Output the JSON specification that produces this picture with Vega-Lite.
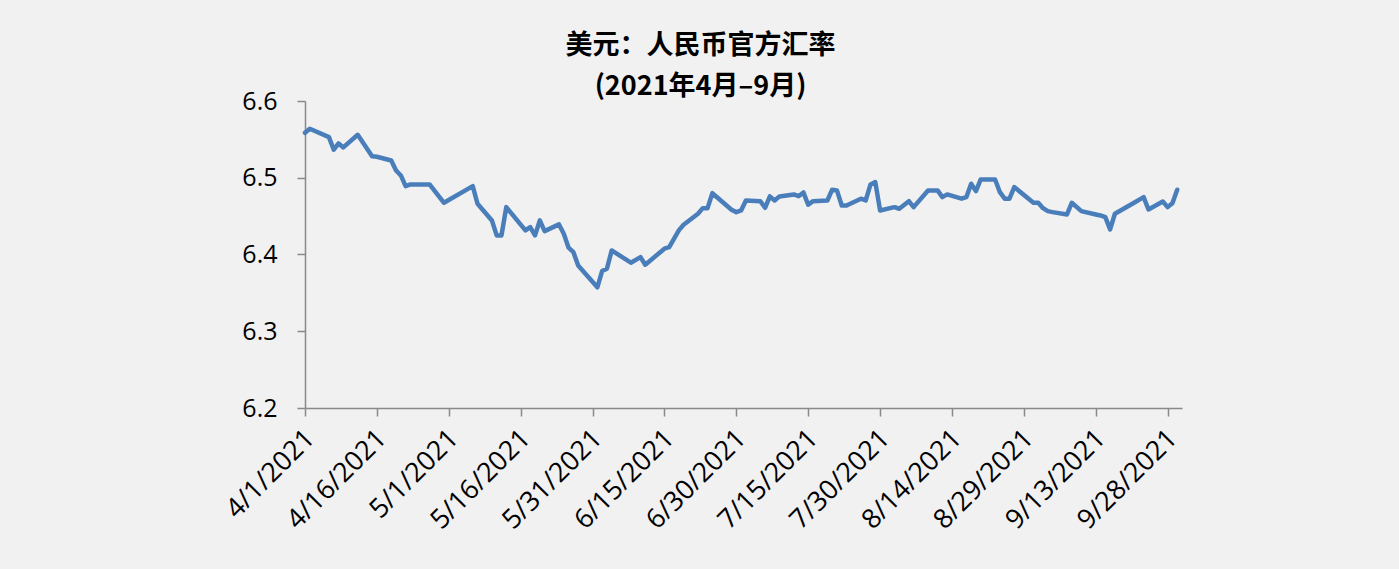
{
  "$schema": "https://vega.github.io/schema/vega-lite/v6.json",
  "width": 877,
  "height": 307,
  "autosize": {"type": "none"},
  "padding": {"left": 305, "top": 101, "right": 217, "bottom": 161},
  "background": "#F1F1F1",
  "title": {
    "text": ["美元：人民币官方汇率", "(2021年4月–9月)"],
    "font": "Noto Sans CJK SC",
    "fontSize": 27,
    "fontWeight": "bold",
    "lineHeight": 41,
    "anchor": "middle",
    "dx": -43,
    "offset": -12,
    "color": "#000000"
  },
  "data": {
    "values": [
      {"date": "2021/04/01", "rate": 6.5586},
      {"date": "2021/04/02", "rate": 6.5638},
      {"date": "2021/04/06", "rate": 6.5529},
      {"date": "2021/04/07", "rate": 6.5365},
      {"date": "2021/04/08", "rate": 6.5447},
      {"date": "2021/04/09", "rate": 6.5395},
      {"date": "2021/04/12", "rate": 6.5560},
      {"date": "2021/04/15", "rate": 6.5281},
      {"date": "2021/04/16", "rate": 6.5273},
      {"date": "2021/04/19", "rate": 6.5225},
      {"date": "2021/04/20", "rate": 6.5095},
      {"date": "2021/04/21", "rate": 6.5030},
      {"date": "2021/04/22", "rate": 6.4891},
      {"date": "2021/04/23", "rate": 6.4913},
      {"date": "2021/04/27", "rate": 6.4913},
      {"date": "2021/04/30", "rate": 6.4674},
      {"date": "2021/05/06", "rate": 6.4891},
      {"date": "2021/05/07", "rate": 6.4661},
      {"date": "2021/05/10", "rate": 6.4444},
      {"date": "2021/05/11", "rate": 6.4249},
      {"date": "2021/05/12", "rate": 6.4249},
      {"date": "2021/05/13", "rate": 6.4617},
      {"date": "2021/05/17", "rate": 6.4314},
      {"date": "2021/05/18", "rate": 6.4357},
      {"date": "2021/05/19", "rate": 6.4249},
      {"date": "2021/05/20", "rate": 6.4444},
      {"date": "2021/05/21", "rate": 6.4305},
      {"date": "2021/05/24", "rate": 6.4392},
      {"date": "2021/05/25", "rate": 6.4271},
      {"date": "2021/05/26", "rate": 6.4089},
      {"date": "2021/05/27", "rate": 6.4031},
      {"date": "2021/05/28", "rate": 6.3858},
      {"date": "2021/06/01", "rate": 6.3572},
      {"date": "2021/06/02", "rate": 6.3784},
      {"date": "2021/06/03", "rate": 6.3815},
      {"date": "2021/06/04", "rate": 6.4053},
      {"date": "2021/06/08", "rate": 6.3893},
      {"date": "2021/06/10", "rate": 6.3966},
      {"date": "2021/06/11", "rate": 6.3867},
      {"date": "2021/06/15", "rate": 6.4076},
      {"date": "2021/06/16", "rate": 6.4096},
      {"date": "2021/06/18", "rate": 6.4314},
      {"date": "2021/06/19", "rate": 6.4388},
      {"date": "2021/06/22", "rate": 6.4531},
      {"date": "2021/06/23", "rate": 6.4604},
      {"date": "2021/06/24", "rate": 6.4604},
      {"date": "2021/06/25", "rate": 6.4799},
      {"date": "2021/06/29", "rate": 6.4583},
      {"date": "2021/06/30", "rate": 6.4552},
      {"date": "2021/07/01", "rate": 6.4574},
      {"date": "2021/07/02", "rate": 6.4704},
      {"date": "2021/07/05", "rate": 6.4695},
      {"date": "2021/07/06", "rate": 6.4609},
      {"date": "2021/07/07", "rate": 6.4757},
      {"date": "2021/07/08", "rate": 6.4704},
      {"date": "2021/07/09", "rate": 6.4757},
      {"date": "2021/07/12", "rate": 6.4783},
      {"date": "2021/07/13", "rate": 6.4760},
      {"date": "2021/07/14", "rate": 6.4809},
      {"date": "2021/07/15", "rate": 6.4648},
      {"date": "2021/07/16", "rate": 6.4695},
      {"date": "2021/07/19", "rate": 6.4704},
      {"date": "2021/07/20", "rate": 6.4844},
      {"date": "2021/07/21", "rate": 6.4835},
      {"date": "2021/07/22", "rate": 6.4639},
      {"date": "2021/07/23", "rate": 6.4639},
      {"date": "2021/07/26", "rate": 6.4727},
      {"date": "2021/07/27", "rate": 6.4704},
      {"date": "2021/07/28", "rate": 6.4913},
      {"date": "2021/07/29", "rate": 6.4943},
      {"date": "2021/07/30", "rate": 6.4574},
      {"date": "2021/08/02", "rate": 6.4617},
      {"date": "2021/08/03", "rate": 6.4596},
      {"date": "2021/08/05", "rate": 6.4695},
      {"date": "2021/08/06", "rate": 6.4617},
      {"date": "2021/08/09", "rate": 6.4835},
      {"date": "2021/08/11", "rate": 6.4835},
      {"date": "2021/08/12", "rate": 6.4747},
      {"date": "2021/08/13", "rate": 6.4783},
      {"date": "2021/08/16", "rate": 6.4727},
      {"date": "2021/08/17", "rate": 6.4747},
      {"date": "2021/08/18", "rate": 6.4922},
      {"date": "2021/08/19", "rate": 6.4826},
      {"date": "2021/08/20", "rate": 6.4978},
      {"date": "2021/08/23", "rate": 6.4978},
      {"date": "2021/08/24", "rate": 6.4812},
      {"date": "2021/08/25", "rate": 6.4727},
      {"date": "2021/08/26", "rate": 6.4727},
      {"date": "2021/08/27", "rate": 6.4878},
      {"date": "2021/08/31", "rate": 6.4674},
      {"date": "2021/09/01", "rate": 6.4674},
      {"date": "2021/09/02", "rate": 6.4604},
      {"date": "2021/09/03", "rate": 6.4565},
      {"date": "2021/09/04", "rate": 6.4552},
      {"date": "2021/09/07", "rate": 6.4522},
      {"date": "2021/09/08", "rate": 6.4674},
      {"date": "2021/09/10", "rate": 6.4565},
      {"date": "2021/09/13", "rate": 6.4522},
      {"date": "2021/09/14", "rate": 6.4509},
      {"date": "2021/09/15", "rate": 6.4487},
      {"date": "2021/09/16", "rate": 6.4327},
      {"date": "2021/09/17", "rate": 6.4531},
      {"date": "2021/09/21", "rate": 6.4674},
      {"date": "2021/09/23", "rate": 6.4747},
      {"date": "2021/09/24", "rate": 6.4587},
      {"date": "2021/09/27", "rate": 6.4691},
      {"date": "2021/09/28", "rate": 6.4617},
      {"date": "2021/09/29", "rate": 6.4669},
      {"date": "2021/09/30", "rate": 6.4844}
    ]
  },
  "mark": {"type": "line", "color": "#4A7EBB", "strokeWidth": 4.5, "strokeJoin": "round", "strokeCap": "round"},
  "encoding": {
    "x": {
      "field": "date",
      "type": "temporal",
      "title": null,
      "scale": {"domain": [{"year": 2021, "month": 4, "date": 1}, {"year": 2021, "month": 10, "date": 1}]},
      "axis": {
        "values": [
          {"year": 2021, "month": 4, "date": 1},
          {"year": 2021, "month": 4, "date": 16},
          {"year": 2021, "month": 5, "date": 1},
          {"year": 2021, "month": 5, "date": 16},
          {"year": 2021, "month": 5, "date": 31},
          {"year": 2021, "month": 6, "date": 15},
          {"year": 2021, "month": 6, "date": 30},
          {"year": 2021, "month": 7, "date": 15},
          {"year": 2021, "month": 7, "date": 30},
          {"year": 2021, "month": 8, "date": 14},
          {"year": 2021, "month": 8, "date": 29},
          {"year": 2021, "month": 9, "date": 13},
          {"year": 2021, "month": 9, "date": 28}
        ],
        "format": "%-m/%-d/%Y",
        "labelAngle": -45,
        "labelAlign": "right",
        "labelBaseline": "middle",
        "labelPadding": 18,
        "labelOffset": 5,
        "labelFontSize": 27,
        "labelOverlap": false,
        "labelBound": false,
        "labelFlush": false
      }
    },
    "y": {
      "field": "rate",
      "type": "quantitative",
      "title": null,
      "scale": {"domain": [6.2, 6.6], "zero": false, "nice": false},
      "axis": {
        "values": [6.2, 6.3, 6.4, 6.5, 6.6],
        "format": ".1f",
        "labelPadding": 20,
        "labelFontSize": 25
      }
    }
  },
  "config": {
    "view": {"stroke": null},
    "axis": {
      "grid": false,
      "domainColor": "#898989",
      "tickColor": "#898989",
      "domainWidth": 1.5,
      "tickWidth": 1.5,
      "tickSize": 8,
      "labelFont": "Open Sans",
      "labelFontSize": 24,
      "labelColor": "#000000"
    }
  }
}
